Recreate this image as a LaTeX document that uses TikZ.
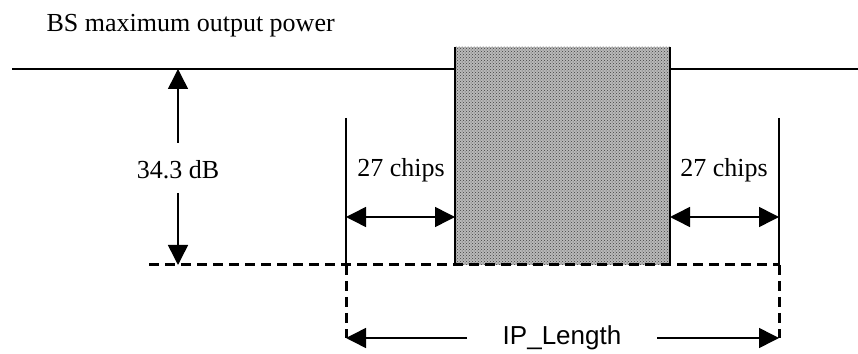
\documentclass[tikz,border=0pt]{standalone}
\usepackage{fontspec}
\setmainfont{Liberation Serif}
\newfontfamily\arialfont{Liberation Sans}
\usepackage{tikz}
\usetikzlibrary{arrows.meta,patterns}

\begin{document}
\begin{tikzpicture}[x=1pt,y=1pt,
  >={Triangle[length=20pt,width=20pt]},
  font=\fontsize{26}{30}\selectfont]
\useasboundingbox (0,0) rectangle (858,353);

\coordinate (topL) at (12,284);
\coordinate (topR) at (858,284);
\coordinate (boxBL) at (455,88);
\coordinate (boxTL) at (455,306);
\coordinate (boxBR) at (670,88);
\coordinate (boxTR) at (670,306);
\coordinate (baseL) at (149,88);
\coordinate (baseR) at (779,88);
\coordinate (winL) at (346,235);
\coordinate (winR) at (779,235);
\coordinate (winLb) at (346,88);
\coordinate (winRb) at (779,88);
\coordinate (winLe) at (346,15);
\coordinate (winRe) at (779,15);
\coordinate (upA) at (178,210);
\coordinate (upB) at (178,284);
\coordinate (dnA) at (178,160);
\coordinate (dnB) at (178,88);
\coordinate (chL1) at (346,136);
\coordinate (chL2) at (455,136);
\coordinate (chR1) at (670,136);
\coordinate (chR2) at (779,136);
\coordinate (ipA) at (467,15);
\coordinate (ipB) at (657,15);

\node[anchor=base west] (title) at (43,321) {BS maximum output power};
\node (dB) at (178,183) {34.3 dB};
\node (chipsL) at (401,183) {27 chips};
\node (chipsR) at (724,183) {27 chips};
\node (iplen) at (562,15) {\arialfont IP\_Length};

% shaded block
\fill[gray!55] (boxBL) rectangle (boxTR);
\fill[pattern=crosshatch dots,pattern color=black!75] (boxBL) rectangle (boxTR);
\draw[line width=2.2pt] (boxBL) -- (boxTL);
\draw[line width=2.2pt] (boxBR) -- (boxTR);

% power level
\draw[line width=2.2pt] (topL) -- (boxTL |- topL);
\draw[line width=2.2pt] (boxTR |- topR) -- (topR);
\draw[line width=3pt,dash pattern=on 10pt off 6pt] (baseL) -- (baseR);

% window
\draw[line width=2.5pt] (winL) -- (winLb);
\draw[line width=2.5pt] (winR) -- (winRb);
\draw[line width=3pt,dash pattern=on 10pt off 6pt] (winLb) -- (winLe);
\draw[line width=3pt,dash pattern=on 10pt off 6pt] (winRb) -- (winRe);

\draw[->,line width=1.5pt] (upA) -- (upB);
\draw[->,line width=1.5pt] (dnA) -- (dnB);
\draw[<->,line width=1.5pt] (chL1) -- (chL2);
\draw[<->,line width=1.5pt] (chR1) -- (chR2);
\draw[->,line width=1.5pt] (ipA) -- (winLe);
\draw[->,line width=1.5pt] (ipB) -- (winRe);
\end{tikzpicture}
\end{document}
